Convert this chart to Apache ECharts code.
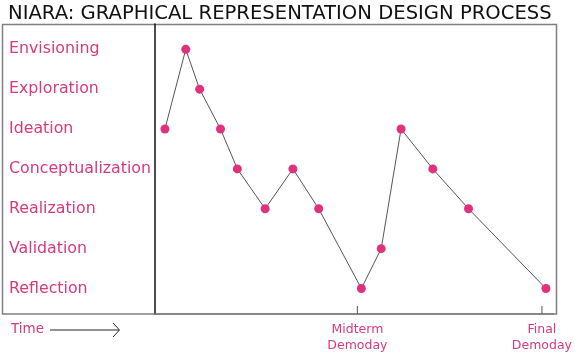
<!DOCTYPE html>
<html>
<head>
<meta charset="utf-8">
<script src="https://cdn.jsdelivr.net/npm/echarts@6/dist/echarts.min.js"></script>
<style>
html,body{margin:0;padding:0;background:#fff;}
#chart{width:575px;height:355px;}
</style>
</head>
<body>
<div id="chart"></div>
<script>
// Design stages (bottom to top on the y axis)
const stages = ['Reflection','Validation','Realization','Conceptualization','Ideation','Exploration','Envisioning'];
// Time positions of each step (arbitrary time units)
const timePoints = [10, 31, 45, 66, 83, 111, 139, 165, 208, 228, 248, 280, 316, 394];
// Stage reached at each step
const stageSeq = ['Ideation','Envisioning','Exploration','Ideation','Conceptualization','Realization','Conceptualization','Realization','Reflection','Validation','Ideation','Conceptualization','Realization','Reflection'];
// Milestones on the time axis
const milestoneValues = [204, 390];
const milestoneLabels = ['Midterm\nDemoday', 'Final\nDemoday'];

const pink = '#d8397c';
const dotPink = '#e0327c';
const Y_MIN = -0.64, Y_MAX = 6.635;

const data = timePoints.map((t, i) => [t, stages.indexOf(stageSeq[i])]);
const tickData = milestoneValues.map(v => [v, Y_MIN]);

const chart = echarts.init(document.getElementById('chart'), null, {renderer: 'canvas'});
chart.setOption({
  animation: false,
  backgroundColor: '#fff',
  title: {
    text: 'NIARA: GRAPHICAL REPRESENTATION DESIGN PROCESS',
    left: 3, top: -1,
    textStyle: {fontFamily: 'DejaVu Sans', fontSize: 19.6, fontWeight: 'normal', color: '#111'}
  },
  grid: {left: 155, right: 18, top: 24, bottom: 41, containLabel: false},
  xAxis: {
    type: 'value', min: 0, max: 402,
    splitLine: {show: false},
    axisLine: {show: true, onZero: false, lineStyle: {color: '#808080', width: 1.5}},
    axisTick: {show: false},
    axisLabel: {
      show: true, customValues: milestoneValues,
      formatter: v => milestoneLabels[milestoneValues.indexOf(v)] || '',
      color: pink, fontFamily: 'DejaVu Sans', fontSize: 12.5, lineHeight: 16, margin: 8
    }
  },
  yAxis: {
    type: 'value', min: Y_MIN, max: Y_MAX, interval: 1,
    splitLine: {show: false},
    axisLine: {show: true, onZero: false, lineStyle: {color: '#111', width: 1.5}},
    axisTick: {show: false},
    axisLabel: {
      customValues: stages.map((s, i) => i),
      formatter: v => stages[Math.round(v)] || '',
      align: 'left', margin: 146,
      color: pink, fontFamily: 'DejaVu Sans', fontSize: 15.8
    }
  },
  graphic: [
    {type: 'rect', silent: true, z: 0,
     shape: {x: 2.5, y: 24.5, width: 554, height: 289.5},
     style: {fill: null, stroke: '#808080', lineWidth: 1.5}},
    {type: 'text', left: 11, top: 322,
     style: {text: 'Time', fill: pink, font: '13.5px "DejaVu Sans"'}},
    {type: 'polyline', silent: true,
     shape: {points: [[50, 330], [119, 330]]},
     style: {stroke: '#222', lineWidth: 1}},
    {type: 'polyline', silent: true,
     shape: {points: [[113, 323], [119.5, 330], [113, 337]]},
     style: {stroke: '#222', lineWidth: 1, fill: null}}
  ],
  series: [{
    type: 'line',
    data: data,
    symbol: 'circle',
    symbolSize: 9,
    itemStyle: {color: dotPink},
    lineStyle: {color: '#555', width: 1},
    z: 3
  }, {
    // milestone tick marks on the time axis
    type: 'custom',
    silent: true,
    clip: false,
    data: tickData,
    encode: {x: 0, y: 1},
    renderItem: function (params, api) {
      const p = api.coord([api.value(0), api.value(1)]);
      return {
        type: 'line',
        shape: {x1: p[0], y1: p[1], x2: p[0], y2: p[1] - 8},
        style: {stroke: '#555', lineWidth: 1}
      };
    },
    z: 4
  }]
});
</script>
</body>
</html>
